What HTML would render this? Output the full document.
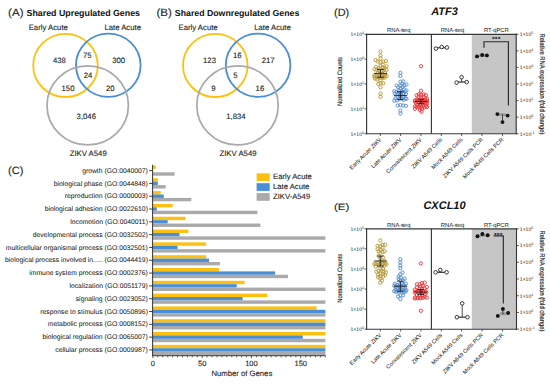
<!DOCTYPE html>
<html><head><meta charset="utf-8"><style>
html,body{margin:0;padding:0;background:#fff;width:550px;height:384px;overflow:hidden}
svg{display:block}
text{font-family:"Liberation Sans",sans-serif;text-rendering:geometricPrecision}
</style></head><body>
<svg width="550" height="384" viewBox="0 0 550 384">
<rect width="550" height="384" fill="#fff"/>
<text x="8.10" y="16.20" font-size="10.5" text-anchor="start" font-weight="normal" font-style="normal" fill="#222" stroke="#222" stroke-width="0.1" textLength="15.4" lengthAdjust="spacingAndGlyphs">(A)</text>
<text x="26.50" y="16.40" font-size="8.85" text-anchor="start" font-weight="bold" font-style="normal" fill="#111" >Shared Upregulated Genes</text>
<text x="48.30" y="29.80" font-size="7.75" text-anchor="middle" font-weight="normal" font-style="normal" fill="#222" stroke="#222" stroke-width="0.1" >Early Acute</text>
<text x="122.70" y="29.60" font-size="7.75" text-anchor="middle" font-weight="normal" font-style="normal" fill="#222" stroke="#222" stroke-width="0.1" >Late Acute</text>
<ellipse cx="65.50" cy="65.40" rx="32.30" ry="31.60" stroke="#FDC010" fill="none" stroke-width="1.8"/>
<ellipse cx="108.30" cy="65.20" rx="32.30" ry="31.60" stroke="#4A8ED6" fill="none" stroke-width="1.8"/>
<ellipse cx="87.70" cy="105.40" rx="40.70" ry="39.50" stroke="#AAAAAC" fill="none" stroke-width="1.75"/>
<text x="59.40" y="63.20" font-size="7.75" text-anchor="middle" font-weight="normal" font-style="normal" fill="#222" stroke="#222" stroke-width="0.1" >438</text>
<text x="87.20" y="58.00" font-size="7.75" text-anchor="middle" font-weight="normal" font-style="normal" fill="#222" stroke="#222" stroke-width="0.1" >75</text>
<text x="118.70" y="63.00" font-size="7.75" text-anchor="middle" font-weight="normal" font-style="normal" fill="#222" stroke="#222" stroke-width="0.1" >300</text>
<text x="88.00" y="78.30" font-size="7.75" text-anchor="middle" font-weight="normal" font-style="normal" fill="#222" stroke="#222" stroke-width="0.1" >24</text>
<text x="68.00" y="90.60" font-size="7.75" text-anchor="middle" font-weight="normal" font-style="normal" fill="#222" stroke="#222" stroke-width="0.1" >150</text>
<text x="110.20" y="90.60" font-size="7.75" text-anchor="middle" font-weight="normal" font-style="normal" fill="#222" stroke="#222" stroke-width="0.1" >20</text>
<text x="86.30" y="118.60" font-size="7.75" text-anchor="middle" font-weight="normal" font-style="normal" fill="#222" stroke="#222" stroke-width="0.1" >3,046</text>
<text x="88.20" y="156.10" font-size="7.75" text-anchor="middle" font-weight="normal" font-style="normal" fill="#222" stroke="#222" stroke-width="0.1" >ZIKV A549</text>
<text x="156.40" y="16.20" font-size="10.5" text-anchor="start" font-weight="normal" font-style="normal" fill="#222" stroke="#222" stroke-width="0.1" textLength="15.4" lengthAdjust="spacingAndGlyphs">(B)</text>
<text x="174.85" y="16.40" font-size="8.75" text-anchor="start" font-weight="bold" font-style="normal" fill="#111" >Shared Downregulated Genes</text>
<text x="198.10" y="29.80" font-size="7.75" text-anchor="middle" font-weight="normal" font-style="normal" fill="#222" stroke="#222" stroke-width="0.1" >Early Acute</text>
<text x="272.50" y="29.60" font-size="7.75" text-anchor="middle" font-weight="normal" font-style="normal" fill="#222" stroke="#222" stroke-width="0.1" >Late Acute</text>
<ellipse cx="215.30" cy="65.40" rx="32.30" ry="31.60" stroke="#FDC010" fill="none" stroke-width="1.8"/>
<ellipse cx="258.10" cy="65.20" rx="32.30" ry="31.60" stroke="#4A8ED6" fill="none" stroke-width="1.8"/>
<ellipse cx="237.50" cy="105.40" rx="40.70" ry="39.50" stroke="#AAAAAC" fill="none" stroke-width="1.75"/>
<text x="209.50" y="62.90" font-size="7.75" text-anchor="middle" font-weight="normal" font-style="normal" fill="#222" stroke="#222" stroke-width="0.1" >123</text>
<text x="237.20" y="57.90" font-size="7.75" text-anchor="middle" font-weight="normal" font-style="normal" fill="#222" stroke="#222" stroke-width="0.1" >16</text>
<text x="268.20" y="62.90" font-size="7.75" text-anchor="middle" font-weight="normal" font-style="normal" fill="#222" stroke="#222" stroke-width="0.1" >217</text>
<text x="235.50" y="78.20" font-size="7.75" text-anchor="middle" font-weight="normal" font-style="normal" fill="#222" stroke="#222" stroke-width="0.1" >5</text>
<text x="213.40" y="90.60" font-size="7.75" text-anchor="middle" font-weight="normal" font-style="normal" fill="#222" stroke="#222" stroke-width="0.1" >9</text>
<text x="259.90" y="90.60" font-size="7.75" text-anchor="middle" font-weight="normal" font-style="normal" fill="#222" stroke="#222" stroke-width="0.1" >16</text>
<text x="235.90" y="118.60" font-size="7.75" text-anchor="middle" font-weight="normal" font-style="normal" fill="#222" stroke="#222" stroke-width="0.1" >1,834</text>
<text x="238.00" y="156.10" font-size="7.75" text-anchor="middle" font-weight="normal" font-style="normal" fill="#222" stroke="#222" stroke-width="0.1" >ZIKV A549</text>
<text x="8.10" y="173.60" font-size="10.5" text-anchor="start" font-weight="normal" font-style="normal" fill="#222" stroke="#222" stroke-width="0.1" textLength="15.4" lengthAdjust="spacingAndGlyphs">(C)</text>
<rect x="152.90" y="165.50" width="2.96" height="3.40" fill="#FDC010"/>
<rect x="152.90" y="172.30" width="21.69" height="3.40" fill="#AAAAAC"/>
<line x1="149.20" y1="170.60" x2="152.90" y2="170.60" stroke="#2a2a2a" stroke-width="0.9"/>
<text x="147.90" y="172.70" font-size="6.8" text-anchor="end" font-weight="normal" font-style="normal" fill="#222" stroke="#222" stroke-width="0.04" >growth (GO:0040007)</text>
<rect x="152.90" y="178.31" width="4.93" height="3.40" fill="#FDC010"/>
<rect x="152.90" y="181.71" width="4.93" height="3.40" fill="#4A8ED6"/>
<rect x="152.90" y="185.11" width="12.81" height="3.40" fill="#AAAAAC"/>
<line x1="149.20" y1="183.41" x2="152.90" y2="183.41" stroke="#2a2a2a" stroke-width="0.9"/>
<text x="147.90" y="185.51" font-size="6.8" text-anchor="end" font-weight="normal" font-style="normal" fill="#222" stroke="#222" stroke-width="0.04" >biological phase (GO:0044848)</text>
<rect x="152.90" y="191.12" width="7.89" height="3.40" fill="#FDC010"/>
<rect x="152.90" y="194.52" width="10.84" height="3.40" fill="#4A8ED6"/>
<rect x="152.90" y="197.92" width="38.44" height="3.40" fill="#AAAAAC"/>
<line x1="149.20" y1="196.22" x2="152.90" y2="196.22" stroke="#2a2a2a" stroke-width="0.9"/>
<text x="147.90" y="198.32" font-size="6.8" text-anchor="end" font-weight="normal" font-style="normal" fill="#222" stroke="#222" stroke-width="0.04" >reproduction (GO:0000003)</text>
<rect x="152.90" y="203.93" width="19.71" height="3.40" fill="#FDC010"/>
<rect x="152.90" y="207.33" width="3.94" height="3.40" fill="#4A8ED6"/>
<rect x="152.90" y="210.73" width="104.48" height="3.40" fill="#AAAAAC"/>
<line x1="149.20" y1="209.03" x2="152.90" y2="209.03" stroke="#2a2a2a" stroke-width="0.9"/>
<text x="147.90" y="211.13" font-size="6.8" text-anchor="end" font-weight="normal" font-style="normal" fill="#222" stroke="#222" stroke-width="0.04" >biological adhesion (GO:0022610)</text>
<rect x="152.90" y="216.74" width="32.53" height="3.40" fill="#FDC010"/>
<rect x="152.90" y="220.14" width="14.79" height="3.40" fill="#4A8ED6"/>
<rect x="152.90" y="223.54" width="107.44" height="3.40" fill="#AAAAAC"/>
<line x1="149.20" y1="221.84" x2="152.90" y2="221.84" stroke="#2a2a2a" stroke-width="0.9"/>
<text x="147.90" y="223.94" font-size="6.8" text-anchor="end" font-weight="normal" font-style="normal" fill="#222" stroke="#222" stroke-width="0.04" >locomotion (GO:0040011)</text>
<rect x="152.90" y="229.55" width="35.49" height="3.40" fill="#FDC010"/>
<rect x="152.90" y="232.95" width="26.61" height="3.40" fill="#4A8ED6"/>
<rect x="152.90" y="236.35" width="172.50" height="3.40" fill="#AAAAAC"/>
<line x1="149.20" y1="234.65" x2="152.90" y2="234.65" stroke="#2a2a2a" stroke-width="0.9"/>
<text x="147.90" y="236.75" font-size="6.8" text-anchor="end" font-weight="normal" font-style="normal" fill="#222" stroke="#222" stroke-width="0.04" >developmental process (GO:0032502)</text>
<rect x="152.90" y="242.36" width="53.23" height="3.40" fill="#FDC010"/>
<rect x="152.90" y="245.76" width="24.64" height="3.40" fill="#4A8ED6"/>
<rect x="152.90" y="249.16" width="172.50" height="3.40" fill="#AAAAAC"/>
<line x1="149.20" y1="247.46" x2="152.90" y2="247.46" stroke="#2a2a2a" stroke-width="0.9"/>
<text x="147.90" y="249.56" font-size="6.8" text-anchor="end" font-weight="normal" font-style="normal" fill="#222" stroke="#222" stroke-width="0.04" >multicellular organismal process (GO:0032501)</text>
<rect x="152.90" y="255.17" width="53.23" height="3.40" fill="#FDC010"/>
<rect x="152.90" y="258.57" width="56.18" height="3.40" fill="#4A8ED6"/>
<rect x="152.90" y="261.97" width="67.03" height="3.40" fill="#AAAAAC"/>
<line x1="149.20" y1="260.27" x2="152.90" y2="260.27" stroke="#2a2a2a" stroke-width="0.9"/>
<text x="147.90" y="262.37" font-size="6.8" text-anchor="end" font-weight="normal" font-style="normal" fill="#222" stroke="#222" stroke-width="0.04" >biological process involved in..... (GO:0044419)</text>
<rect x="152.90" y="267.98" width="66.04" height="3.40" fill="#FDC010"/>
<rect x="152.90" y="271.38" width="122.23" height="3.40" fill="#4A8ED6"/>
<rect x="152.90" y="274.78" width="135.04" height="3.40" fill="#AAAAAC"/>
<line x1="149.20" y1="273.08" x2="152.90" y2="273.08" stroke="#2a2a2a" stroke-width="0.9"/>
<text x="147.90" y="275.18" font-size="6.8" text-anchor="end" font-weight="normal" font-style="normal" fill="#222" stroke="#222" stroke-width="0.04" >immune system process (GO:0002376)</text>
<rect x="152.90" y="280.79" width="91.67" height="3.40" fill="#FDC010"/>
<rect x="152.90" y="284.19" width="83.78" height="3.40" fill="#4A8ED6"/>
<rect x="152.90" y="287.59" width="172.50" height="3.40" fill="#AAAAAC"/>
<line x1="149.20" y1="285.89" x2="152.90" y2="285.89" stroke="#2a2a2a" stroke-width="0.9"/>
<text x="147.90" y="287.99" font-size="6.8" text-anchor="end" font-weight="normal" font-style="normal" fill="#222" stroke="#222" stroke-width="0.04" >localization (GO:0051179)</text>
<rect x="152.90" y="293.60" width="114.34" height="3.40" fill="#FDC010"/>
<rect x="152.90" y="297.00" width="89.70" height="3.40" fill="#4A8ED6"/>
<rect x="152.90" y="300.40" width="172.50" height="3.40" fill="#AAAAAC"/>
<line x1="149.20" y1="298.70" x2="152.90" y2="298.70" stroke="#2a2a2a" stroke-width="0.9"/>
<text x="147.90" y="300.80" font-size="6.8" text-anchor="end" font-weight="normal" font-style="normal" fill="#222" stroke="#222" stroke-width="0.04" >signaling (GO:0023052)</text>
<rect x="152.90" y="306.41" width="163.63" height="3.40" fill="#FDC010"/>
<rect x="152.90" y="309.81" width="172.50" height="3.40" fill="#4A8ED6"/>
<rect x="152.90" y="313.21" width="172.50" height="3.40" fill="#AAAAAC"/>
<line x1="149.20" y1="311.51" x2="152.90" y2="311.51" stroke="#2a2a2a" stroke-width="0.9"/>
<text x="147.90" y="313.61" font-size="6.8" text-anchor="end" font-weight="normal" font-style="normal" fill="#222" stroke="#222" stroke-width="0.04" >response to stimulus (GO:0050896)</text>
<rect x="152.90" y="319.22" width="172.50" height="3.40" fill="#FDC010"/>
<rect x="152.90" y="322.62" width="172.50" height="3.40" fill="#4A8ED6"/>
<rect x="152.90" y="326.02" width="172.50" height="3.40" fill="#AAAAAC"/>
<line x1="149.20" y1="324.32" x2="152.90" y2="324.32" stroke="#2a2a2a" stroke-width="0.9"/>
<text x="147.90" y="326.42" font-size="6.8" text-anchor="end" font-weight="normal" font-style="normal" fill="#222" stroke="#222" stroke-width="0.04" >metabolic process (GO:0008152)</text>
<rect x="152.90" y="332.03" width="172.50" height="3.40" fill="#FDC010"/>
<rect x="152.90" y="335.43" width="149.83" height="3.40" fill="#4A8ED6"/>
<rect x="152.90" y="338.83" width="172.50" height="3.40" fill="#AAAAAC"/>
<line x1="149.20" y1="337.13" x2="152.90" y2="337.13" stroke="#2a2a2a" stroke-width="0.9"/>
<text x="147.90" y="339.23" font-size="6.8" text-anchor="end" font-weight="normal" font-style="normal" fill="#222" stroke="#222" stroke-width="0.04" >biological regulation (GO:0065007)</text>
<rect x="152.90" y="344.84" width="172.50" height="3.40" fill="#FDC010"/>
<rect x="152.90" y="348.24" width="172.50" height="3.40" fill="#4A8ED6"/>
<rect x="152.90" y="351.64" width="172.50" height="3.40" fill="#AAAAAC"/>
<line x1="149.20" y1="349.94" x2="152.90" y2="349.94" stroke="#2a2a2a" stroke-width="0.9"/>
<text x="147.90" y="352.04" font-size="6.8" text-anchor="end" font-weight="normal" font-style="normal" fill="#222" stroke="#222" stroke-width="0.04" >cellular process (GO:0009987)</text>
<line x1="152.60" y1="164.80" x2="152.60" y2="356.10" stroke="#333" stroke-width="1"/>
<line x1="152.40" y1="355.70" x2="325.40" y2="355.70" stroke="#333" stroke-width="1"/>
<line x1="152.90" y1="355.70" x2="152.90" y2="358.10" stroke="#333" stroke-width="0.8"/>
<line x1="157.83" y1="355.70" x2="157.83" y2="357.30" stroke="#333" stroke-width="0.8"/>
<line x1="162.76" y1="355.70" x2="162.76" y2="357.30" stroke="#333" stroke-width="0.8"/>
<line x1="167.69" y1="355.70" x2="167.69" y2="357.30" stroke="#333" stroke-width="0.8"/>
<line x1="172.61" y1="355.70" x2="172.61" y2="357.30" stroke="#333" stroke-width="0.8"/>
<line x1="177.54" y1="355.70" x2="177.54" y2="357.30" stroke="#333" stroke-width="0.8"/>
<line x1="182.47" y1="355.70" x2="182.47" y2="357.30" stroke="#333" stroke-width="0.8"/>
<line x1="187.40" y1="355.70" x2="187.40" y2="357.30" stroke="#333" stroke-width="0.8"/>
<line x1="192.33" y1="355.70" x2="192.33" y2="357.30" stroke="#333" stroke-width="0.8"/>
<line x1="197.26" y1="355.70" x2="197.26" y2="357.30" stroke="#333" stroke-width="0.8"/>
<line x1="202.19" y1="355.70" x2="202.19" y2="358.10" stroke="#333" stroke-width="0.8"/>
<line x1="207.11" y1="355.70" x2="207.11" y2="357.30" stroke="#333" stroke-width="0.8"/>
<line x1="212.04" y1="355.70" x2="212.04" y2="357.30" stroke="#333" stroke-width="0.8"/>
<line x1="216.97" y1="355.70" x2="216.97" y2="357.30" stroke="#333" stroke-width="0.8"/>
<line x1="221.90" y1="355.70" x2="221.90" y2="357.30" stroke="#333" stroke-width="0.8"/>
<line x1="226.83" y1="355.70" x2="226.83" y2="357.30" stroke="#333" stroke-width="0.8"/>
<line x1="231.76" y1="355.70" x2="231.76" y2="357.30" stroke="#333" stroke-width="0.8"/>
<line x1="236.68" y1="355.70" x2="236.68" y2="357.30" stroke="#333" stroke-width="0.8"/>
<line x1="241.61" y1="355.70" x2="241.61" y2="357.30" stroke="#333" stroke-width="0.8"/>
<line x1="246.54" y1="355.70" x2="246.54" y2="357.30" stroke="#333" stroke-width="0.8"/>
<line x1="251.47" y1="355.70" x2="251.47" y2="358.10" stroke="#333" stroke-width="0.8"/>
<line x1="256.40" y1="355.70" x2="256.40" y2="357.30" stroke="#333" stroke-width="0.8"/>
<line x1="261.33" y1="355.70" x2="261.33" y2="357.30" stroke="#333" stroke-width="0.8"/>
<line x1="266.26" y1="355.70" x2="266.26" y2="357.30" stroke="#333" stroke-width="0.8"/>
<line x1="271.18" y1="355.70" x2="271.18" y2="357.30" stroke="#333" stroke-width="0.8"/>
<line x1="276.11" y1="355.70" x2="276.11" y2="357.30" stroke="#333" stroke-width="0.8"/>
<line x1="281.04" y1="355.70" x2="281.04" y2="357.30" stroke="#333" stroke-width="0.8"/>
<line x1="285.97" y1="355.70" x2="285.97" y2="357.30" stroke="#333" stroke-width="0.8"/>
<line x1="290.90" y1="355.70" x2="290.90" y2="357.30" stroke="#333" stroke-width="0.8"/>
<line x1="295.83" y1="355.70" x2="295.83" y2="357.30" stroke="#333" stroke-width="0.8"/>
<line x1="300.75" y1="355.70" x2="300.75" y2="358.10" stroke="#333" stroke-width="0.8"/>
<line x1="305.68" y1="355.70" x2="305.68" y2="357.30" stroke="#333" stroke-width="0.8"/>
<line x1="310.61" y1="355.70" x2="310.61" y2="357.30" stroke="#333" stroke-width="0.8"/>
<line x1="315.54" y1="355.70" x2="315.54" y2="357.30" stroke="#333" stroke-width="0.8"/>
<line x1="320.47" y1="355.70" x2="320.47" y2="357.30" stroke="#333" stroke-width="0.8"/>
<line x1="325.40" y1="355.70" x2="325.40" y2="357.30" stroke="#333" stroke-width="0.8"/>
<text x="152.90" y="365.50" font-size="7.5" text-anchor="middle" font-weight="normal" font-style="normal" fill="#222" stroke="#222" stroke-width="0.1" >0</text>
<text x="202.19" y="365.50" font-size="7.5" text-anchor="middle" font-weight="normal" font-style="normal" fill="#222" stroke="#222" stroke-width="0.1" >50</text>
<text x="251.47" y="365.50" font-size="7.5" text-anchor="middle" font-weight="normal" font-style="normal" fill="#222" stroke="#222" stroke-width="0.1" >100</text>
<text x="300.75" y="365.50" font-size="7.5" text-anchor="middle" font-weight="normal" font-style="normal" fill="#222" stroke="#222" stroke-width="0.1" >150</text>
<text x="241.90" y="376.30" font-size="7.7" text-anchor="middle" font-weight="normal" font-style="normal" fill="#222" stroke="#222" stroke-width="0.1" >Number of Genes</text>
<rect x="256.60" y="173.30" width="13.10" height="7.70" fill="#FDC010"/>
<text x="273.00" y="179.30" font-size="7.7" text-anchor="start" font-weight="normal" font-style="normal" fill="#222" stroke="#222" stroke-width="0.1" >Early Acute</text>
<rect x="256.60" y="183.20" width="13.10" height="7.70" fill="#4A8ED6"/>
<text x="273.00" y="189.20" font-size="7.7" text-anchor="start" font-weight="normal" font-style="normal" fill="#222" stroke="#222" stroke-width="0.1" >Late Acute</text>
<rect x="256.60" y="193.10" width="13.10" height="7.70" fill="#AAAAAC"/>
<text x="273.00" y="199.10" font-size="7.7" text-anchor="start" font-weight="normal" font-style="normal" fill="#222" stroke="#222" stroke-width="0.1" >ZIKV-A549</text>
<text x="334.00" y="15.70" font-size="10.5" text-anchor="start" font-weight="normal" font-style="normal" fill="#222" stroke="#222" stroke-width="0.1" textLength="15.2" lengthAdjust="spacingAndGlyphs">(D)</text>
<text x="444.50" y="14.90" font-size="11" text-anchor="middle" font-weight="bold" font-style="italic" fill="#111" >ATF3</text>
<rect x="471.80" y="34.30" width="44.60" height="99.40" fill="#C6C6C6"/>
<line x1="366.10" y1="34.30" x2="516.70" y2="34.30" stroke="#383838" stroke-width="1.15"/>
<line x1="366.10" y1="133.70" x2="516.70" y2="133.70" stroke="#383838" stroke-width="1.15"/>
<line x1="366.60" y1="33.80" x2="366.60" y2="134.20" stroke="#383838" stroke-width="1.15"/>
<line x1="516.20" y1="33.80" x2="516.20" y2="134.20" stroke="#383838" stroke-width="1.15"/>
<line x1="431.40" y1="34.30" x2="431.40" y2="133.70" stroke="#383838" stroke-width="1.15"/>
<text x="398.80" y="32.30" font-size="5.8" text-anchor="middle" font-weight="normal" font-style="normal" fill="#222" stroke="#222" stroke-width="0.04" >RNA-seq</text>
<text x="452.60" y="32.30" font-size="5.8" text-anchor="middle" font-weight="normal" font-style="normal" fill="#222" stroke="#222" stroke-width="0.04" >RNA-seq</text>
<text x="496.30" y="32.30" font-size="5.8" text-anchor="middle" font-weight="normal" font-style="normal" fill="#222" stroke="#222" stroke-width="0.04" >RT-qPCR</text>
<line x1="364.40" y1="133.70" x2="366.60" y2="133.70" stroke="#333" stroke-width="0.8"/>
<text x="364.0" y="135.60" font-size="5.1" text-anchor="end" fill="#222">1×10<tspan font-size="3.6" dy="-2.0">0</tspan></text>
<line x1="364.40" y1="108.85" x2="366.60" y2="108.85" stroke="#333" stroke-width="0.8"/>
<text x="364.0" y="110.75" font-size="5.1" text-anchor="end" fill="#222">1×10<tspan font-size="3.6" dy="-2.0">1</tspan></text>
<line x1="364.40" y1="84.00" x2="366.60" y2="84.00" stroke="#333" stroke-width="0.8"/>
<text x="364.0" y="85.90" font-size="5.1" text-anchor="end" fill="#222">1×10<tspan font-size="3.6" dy="-2.0">2</tspan></text>
<line x1="364.40" y1="59.15" x2="366.60" y2="59.15" stroke="#333" stroke-width="0.8"/>
<text x="364.0" y="61.05" font-size="5.1" text-anchor="end" fill="#222">1×10<tspan font-size="3.6" dy="-2.0">3</tspan></text>
<line x1="364.40" y1="34.30" x2="366.60" y2="34.30" stroke="#333" stroke-width="0.8"/>
<text x="364.0" y="36.20" font-size="5.1" text-anchor="end" fill="#222">1×10<tspan font-size="3.6" dy="-2.0">4</tspan></text>
<line x1="516.20" y1="133.70" x2="518.60" y2="133.70" stroke="#333" stroke-width="0.8"/>
<text x="519.8" y="135.60" font-size="5.1" fill="#222">1×10<tspan font-size="3.6" dy="-2.0">-1</tspan></text>
<line x1="516.20" y1="117.13" x2="518.60" y2="117.13" stroke="#333" stroke-width="0.8"/>
<text x="519.8" y="119.03" font-size="5.1" fill="#222">1×10<tspan font-size="3.6" dy="-2.0">0</tspan></text>
<line x1="516.20" y1="100.57" x2="518.60" y2="100.57" stroke="#333" stroke-width="0.8"/>
<text x="519.8" y="102.47" font-size="5.1" fill="#222">1×10<tspan font-size="3.6" dy="-2.0">1</tspan></text>
<line x1="516.20" y1="84.00" x2="518.60" y2="84.00" stroke="#333" stroke-width="0.8"/>
<text x="519.8" y="85.90" font-size="5.1" fill="#222">1×10<tspan font-size="3.6" dy="-2.0">2</tspan></text>
<line x1="516.20" y1="67.43" x2="518.60" y2="67.43" stroke="#333" stroke-width="0.8"/>
<text x="519.8" y="69.33" font-size="5.1" fill="#222">1×10<tspan font-size="3.6" dy="-2.0">3</tspan></text>
<line x1="516.20" y1="50.87" x2="518.60" y2="50.87" stroke="#333" stroke-width="0.8"/>
<text x="519.8" y="52.77" font-size="5.1" fill="#222">1×10<tspan font-size="3.6" dy="-2.0">4</tspan></text>
<line x1="516.20" y1="34.30" x2="518.60" y2="34.30" stroke="#333" stroke-width="0.8"/>
<text x="519.8" y="36.20" font-size="5.1" fill="#222">1×10<tspan font-size="3.6" dy="-2.0">5</tspan></text>
<text x="0.00" y="0.00" font-size="5.75" text-anchor="middle" font-weight="normal" font-style="normal" fill="#222" stroke="#222" stroke-width="0.12" transform="translate(341.8,81.5) rotate(-90) scale(1,1.15)">Normalized Counts</text>
<text x="0.00" y="0.00" font-size="5.9" text-anchor="middle" font-weight="normal" font-style="normal" fill="#222" stroke="#222" stroke-width="0.15" transform="translate(540.3,84.0) rotate(90) scale(1,1.15)">Relative RNA expression (fold change)</text>
<line x1="380.40" y1="133.70" x2="380.40" y2="136.00" stroke="#333" stroke-width="0.8"/>
<text x="0.00" y="0.00" font-size="5.6" text-anchor="end" font-weight="normal" font-style="normal" fill="#222" stroke="#222" stroke-width="0.04" transform="translate(381.7,140.0) rotate(-45)">Early Acute ZIKV</text>
<line x1="400.60" y1="133.70" x2="400.60" y2="136.00" stroke="#333" stroke-width="0.8"/>
<text x="0.00" y="0.00" font-size="5.6" text-anchor="end" font-weight="normal" font-style="normal" fill="#222" stroke="#222" stroke-width="0.04" transform="translate(401.9,140.0) rotate(-45)">Late Acute ZIKV</text>
<line x1="420.90" y1="133.70" x2="420.90" y2="136.00" stroke="#333" stroke-width="0.8"/>
<text x="0.00" y="0.00" font-size="5.6" text-anchor="end" font-weight="normal" font-style="normal" fill="#222" stroke="#222" stroke-width="0.04" transform="translate(422.2,140.0) rotate(-45)">Convalescent ZIKV</text>
<line x1="441.30" y1="133.70" x2="441.30" y2="136.00" stroke="#333" stroke-width="0.8"/>
<text x="0.00" y="0.00" font-size="5.6" text-anchor="end" font-weight="normal" font-style="normal" fill="#222" stroke="#222" stroke-width="0.04" transform="translate(442.6,140.0) rotate(-45)">ZIKV A549 Cells</text>
<line x1="461.60" y1="133.70" x2="461.60" y2="136.00" stroke="#333" stroke-width="0.8"/>
<text x="0.00" y="0.00" font-size="5.6" text-anchor="end" font-weight="normal" font-style="normal" fill="#222" stroke="#222" stroke-width="0.04" transform="translate(462.9,140.0) rotate(-45)">Mock A549 Cells</text>
<line x1="482.00" y1="133.70" x2="482.00" y2="136.00" stroke="#333" stroke-width="0.8"/>
<text x="0.00" y="0.00" font-size="5.6" text-anchor="end" font-weight="normal" font-style="normal" fill="#222" stroke="#222" stroke-width="0.04" transform="translate(483.3,140.0) rotate(-45)">ZIKV A549 Cells PCR</text>
<line x1="502.50" y1="133.70" x2="502.50" y2="136.00" stroke="#333" stroke-width="0.8"/>
<text x="0.00" y="0.00" font-size="5.6" text-anchor="end" font-weight="normal" font-style="normal" fill="#222" stroke="#222" stroke-width="0.04" transform="translate(503.8,140.0) rotate(-45)">Mock A549 Cells PCR</text>
<circle cx="380.50" cy="73.13" r="1.65" stroke="#B89A3A" fill="none" stroke-width="0.95"/>
<circle cx="382.70" cy="73.89" r="1.65" stroke="#B89A3A" fill="none" stroke-width="0.95"/>
<circle cx="377.75" cy="73.01" r="1.65" stroke="#B89A3A" fill="none" stroke-width="0.95"/>
<circle cx="384.90" cy="72.65" r="1.65" stroke="#B89A3A" fill="none" stroke-width="0.95"/>
<circle cx="384.90" cy="74.98" r="1.65" stroke="#B89A3A" fill="none" stroke-width="0.95"/>
<circle cx="379.40" cy="75.22" r="1.65" stroke="#B89A3A" fill="none" stroke-width="0.95"/>
<circle cx="376.65" cy="75.46" r="1.65" stroke="#B89A3A" fill="none" stroke-width="0.95"/>
<circle cx="374.45" cy="75.49" r="1.65" stroke="#B89A3A" fill="none" stroke-width="0.95"/>
<circle cx="381.60" cy="75.94" r="1.65" stroke="#B89A3A" fill="none" stroke-width="0.95"/>
<circle cx="386.55" cy="75.97" r="1.65" stroke="#B89A3A" fill="none" stroke-width="0.95"/>
<circle cx="381.60" cy="70.97" r="1.65" stroke="#B89A3A" fill="none" stroke-width="0.95"/>
<circle cx="383.80" cy="76.08" r="1.65" stroke="#B89A3A" fill="none" stroke-width="0.95"/>
<circle cx="378.85" cy="70.75" r="1.65" stroke="#B89A3A" fill="none" stroke-width="0.95"/>
<circle cx="378.85" cy="76.65" r="1.65" stroke="#B89A3A" fill="none" stroke-width="0.95"/>
<circle cx="374.45" cy="76.66" r="1.65" stroke="#B89A3A" fill="none" stroke-width="0.95"/>
<circle cx="376.65" cy="76.91" r="1.65" stroke="#B89A3A" fill="none" stroke-width="0.95"/>
<circle cx="383.80" cy="69.92" r="1.65" stroke="#B89A3A" fill="none" stroke-width="0.95"/>
<circle cx="376.65" cy="69.75" r="1.65" stroke="#B89A3A" fill="none" stroke-width="0.95"/>
<circle cx="386.55" cy="69.71" r="1.65" stroke="#B89A3A" fill="none" stroke-width="0.95"/>
<circle cx="384.90" cy="77.49" r="1.65" stroke="#B89A3A" fill="none" stroke-width="0.95"/>
<circle cx="381.05" cy="77.55" r="1.65" stroke="#B89A3A" fill="none" stroke-width="0.95"/>
<circle cx="374.45" cy="69.34" r="1.65" stroke="#B89A3A" fill="none" stroke-width="0.95"/>
<circle cx="378.85" cy="77.67" r="1.65" stroke="#B89A3A" fill="none" stroke-width="0.95"/>
<circle cx="382.70" cy="77.95" r="1.65" stroke="#B89A3A" fill="none" stroke-width="0.95"/>
<circle cx="380.50" cy="68.54" r="1.65" stroke="#B89A3A" fill="none" stroke-width="0.95"/>
<circle cx="375.00" cy="78.56" r="1.65" stroke="#B89A3A" fill="none" stroke-width="0.95"/>
<circle cx="378.30" cy="68.36" r="1.65" stroke="#B89A3A" fill="none" stroke-width="0.95"/>
<circle cx="384.90" cy="68.21" r="1.65" stroke="#B89A3A" fill="none" stroke-width="0.95"/>
<circle cx="382.70" cy="67.58" r="1.65" stroke="#B89A3A" fill="none" stroke-width="0.95"/>
<circle cx="377.20" cy="79.53" r="1.65" stroke="#B89A3A" fill="none" stroke-width="0.95"/>
<circle cx="376.10" cy="67.04" r="1.65" stroke="#B89A3A" fill="none" stroke-width="0.95"/>
<circle cx="380.50" cy="80.34" r="1.65" stroke="#B89A3A" fill="none" stroke-width="0.95"/>
<circle cx="386.55" cy="66.38" r="1.65" stroke="#B89A3A" fill="none" stroke-width="0.95"/>
<circle cx="380.50" cy="65.84" r="1.65" stroke="#B89A3A" fill="none" stroke-width="0.95"/>
<circle cx="382.70" cy="64.53" r="1.65" stroke="#B89A3A" fill="none" stroke-width="0.95"/>
<circle cx="380.50" cy="83.08" r="1.65" stroke="#B89A3A" fill="none" stroke-width="0.95"/>
<circle cx="383.25" cy="83.27" r="1.65" stroke="#B89A3A" fill="none" stroke-width="0.95"/>
<circle cx="378.30" cy="83.95" r="1.65" stroke="#B89A3A" fill="none" stroke-width="0.95"/>
<circle cx="380.50" cy="62.17" r="1.65" stroke="#B89A3A" fill="none" stroke-width="0.95"/>
<circle cx="383.25" cy="61.74" r="1.65" stroke="#B89A3A" fill="none" stroke-width="0.95"/>
<circle cx="377.75" cy="61.58" r="1.65" stroke="#B89A3A" fill="none" stroke-width="0.95"/>
<circle cx="386.00" cy="61.12" r="1.65" stroke="#B89A3A" fill="none" stroke-width="0.95"/>
<circle cx="375.55" cy="60.17" r="1.65" stroke="#B89A3A" fill="none" stroke-width="0.95"/>
<circle cx="380.50" cy="87.24" r="1.65" stroke="#B89A3A" fill="none" stroke-width="0.95"/>
<circle cx="380.50" cy="51.60" r="1.65" stroke="#B89A3A" fill="none" stroke-width="0.95"/>
<circle cx="380.50" cy="55.50" r="1.65" stroke="#B89A3A" fill="none" stroke-width="0.95"/>
<circle cx="380.50" cy="58.50" r="1.65" stroke="#B89A3A" fill="none" stroke-width="0.95"/>
<circle cx="380.50" cy="93.50" r="1.65" stroke="#B89A3A" fill="none" stroke-width="0.95"/>
<circle cx="380.50" cy="96.80" r="1.65" stroke="#B89A3A" fill="none" stroke-width="0.95"/>
<line x1="374.00" y1="73.40" x2="387.00" y2="73.40" stroke="#1a1a1a" stroke-width="0.85"/>
<line x1="380.50" y1="69.50" x2="380.50" y2="77.30" stroke="#1a1a1a" stroke-width="0.85"/>
<line x1="377.20" y1="69.50" x2="383.80" y2="69.50" stroke="#1a1a1a" stroke-width="0.85"/>
<line x1="377.20" y1="77.30" x2="383.80" y2="77.30" stroke="#1a1a1a" stroke-width="0.85"/>
<circle cx="400.40" cy="94.41" r="1.65" stroke="#5A8DD0" fill="none" stroke-width="0.95"/>
<circle cx="403.15" cy="94.22" r="1.65" stroke="#5A8DD0" fill="none" stroke-width="0.95"/>
<circle cx="397.65" cy="94.10" r="1.65" stroke="#5A8DD0" fill="none" stroke-width="0.95"/>
<circle cx="405.90" cy="94.08" r="1.65" stroke="#5A8DD0" fill="none" stroke-width="0.95"/>
<circle cx="394.90" cy="93.49" r="1.65" stroke="#5A8DD0" fill="none" stroke-width="0.95"/>
<circle cx="400.95" cy="93.40" r="1.65" stroke="#5A8DD0" fill="none" stroke-width="0.95"/>
<circle cx="403.70" cy="93.32" r="1.65" stroke="#5A8DD0" fill="none" stroke-width="0.95"/>
<circle cx="400.40" cy="96.72" r="1.65" stroke="#5A8DD0" fill="none" stroke-width="0.95"/>
<circle cx="403.15" cy="97.00" r="1.65" stroke="#5A8DD0" fill="none" stroke-width="0.95"/>
<circle cx="398.75" cy="92.93" r="1.65" stroke="#5A8DD0" fill="none" stroke-width="0.95"/>
<circle cx="397.65" cy="97.17" r="1.65" stroke="#5A8DD0" fill="none" stroke-width="0.95"/>
<circle cx="396.55" cy="91.85" r="1.65" stroke="#5A8DD0" fill="none" stroke-width="0.95"/>
<circle cx="405.35" cy="98.29" r="1.65" stroke="#5A8DD0" fill="none" stroke-width="0.95"/>
<circle cx="405.35" cy="91.60" r="1.65" stroke="#5A8DD0" fill="none" stroke-width="0.95"/>
<circle cx="395.45" cy="98.46" r="1.65" stroke="#5A8DD0" fill="none" stroke-width="0.95"/>
<circle cx="401.50" cy="98.48" r="1.65" stroke="#5A8DD0" fill="none" stroke-width="0.95"/>
<circle cx="402.05" cy="91.29" r="1.65" stroke="#5A8DD0" fill="none" stroke-width="0.95"/>
<circle cx="399.30" cy="98.81" r="1.65" stroke="#5A8DD0" fill="none" stroke-width="0.95"/>
<circle cx="406.45" cy="98.85" r="1.65" stroke="#5A8DD0" fill="none" stroke-width="0.95"/>
<circle cx="394.35" cy="91.12" r="1.65" stroke="#5A8DD0" fill="none" stroke-width="0.95"/>
<circle cx="399.30" cy="90.65" r="1.65" stroke="#5A8DD0" fill="none" stroke-width="0.95"/>
<circle cx="406.45" cy="90.54" r="1.65" stroke="#5A8DD0" fill="none" stroke-width="0.95"/>
<circle cx="403.70" cy="99.84" r="1.65" stroke="#5A8DD0" fill="none" stroke-width="0.95"/>
<circle cx="397.10" cy="100.41" r="1.65" stroke="#5A8DD0" fill="none" stroke-width="0.95"/>
<circle cx="394.35" cy="100.63" r="1.65" stroke="#5A8DD0" fill="none" stroke-width="0.95"/>
<circle cx="403.70" cy="89.31" r="1.65" stroke="#5A8DD0" fill="none" stroke-width="0.95"/>
<circle cx="400.40" cy="88.54" r="1.65" stroke="#5A8DD0" fill="none" stroke-width="0.95"/>
<circle cx="398.20" cy="87.34" r="1.65" stroke="#5A8DD0" fill="none" stroke-width="0.95"/>
<circle cx="402.60" cy="87.06" r="1.65" stroke="#5A8DD0" fill="none" stroke-width="0.95"/>
<circle cx="400.40" cy="85.62" r="1.65" stroke="#5A8DD0" fill="none" stroke-width="0.95"/>
<circle cx="396.55" cy="85.50" r="1.65" stroke="#5A8DD0" fill="none" stroke-width="0.95"/>
<circle cx="404.25" cy="85.33" r="1.65" stroke="#5A8DD0" fill="none" stroke-width="0.95"/>
<circle cx="400.40" cy="105.10" r="1.65" stroke="#5A8DD0" fill="none" stroke-width="0.95"/>
<circle cx="406.45" cy="84.58" r="1.65" stroke="#5A8DD0" fill="none" stroke-width="0.95"/>
<circle cx="403.15" cy="105.57" r="1.65" stroke="#5A8DD0" fill="none" stroke-width="0.95"/>
<circle cx="397.65" cy="105.59" r="1.65" stroke="#5A8DD0" fill="none" stroke-width="0.95"/>
<circle cx="405.90" cy="105.86" r="1.65" stroke="#5A8DD0" fill="none" stroke-width="0.95"/>
<circle cx="402.05" cy="83.82" r="1.65" stroke="#5A8DD0" fill="none" stroke-width="0.95"/>
<circle cx="400.40" cy="81.73" r="1.65" stroke="#5A8DD0" fill="none" stroke-width="0.95"/>
<circle cx="403.15" cy="81.36" r="1.65" stroke="#5A8DD0" fill="none" stroke-width="0.95"/>
<circle cx="400.40" cy="72.90" r="1.65" stroke="#5A8DD0" fill="none" stroke-width="0.95"/>
<circle cx="400.40" cy="76.00" r="1.65" stroke="#5A8DD0" fill="none" stroke-width="0.95"/>
<circle cx="400.40" cy="110.50" r="1.65" stroke="#5A8DD0" fill="none" stroke-width="0.95"/>
<circle cx="400.40" cy="113.50" r="1.65" stroke="#5A8DD0" fill="none" stroke-width="0.95"/>
<line x1="393.90" y1="95.60" x2="406.90" y2="95.60" stroke="#1a1a1a" stroke-width="0.85"/>
<line x1="400.40" y1="91.60" x2="400.40" y2="99.60" stroke="#1a1a1a" stroke-width="0.85"/>
<line x1="397.10" y1="91.60" x2="403.70" y2="91.60" stroke="#1a1a1a" stroke-width="0.85"/>
<line x1="397.10" y1="99.60" x2="403.70" y2="99.60" stroke="#1a1a1a" stroke-width="0.85"/>
<circle cx="421.00" cy="101.72" r="1.65" stroke="#EC3A3E" fill="none" stroke-width="0.95"/>
<circle cx="423.75" cy="101.70" r="1.65" stroke="#EC3A3E" fill="none" stroke-width="0.95"/>
<circle cx="418.25" cy="101.60" r="1.65" stroke="#EC3A3E" fill="none" stroke-width="0.95"/>
<circle cx="426.50" cy="101.55" r="1.65" stroke="#EC3A3E" fill="none" stroke-width="0.95"/>
<circle cx="416.05" cy="102.64" r="1.65" stroke="#EC3A3E" fill="none" stroke-width="0.95"/>
<circle cx="414.95" cy="101.33" r="1.65" stroke="#EC3A3E" fill="none" stroke-width="0.95"/>
<circle cx="427.05" cy="101.23" r="1.65" stroke="#EC3A3E" fill="none" stroke-width="0.95"/>
<circle cx="418.80" cy="102.79" r="1.65" stroke="#EC3A3E" fill="none" stroke-width="0.95"/>
<circle cx="425.40" cy="102.86" r="1.65" stroke="#EC3A3E" fill="none" stroke-width="0.95"/>
<circle cx="421.55" cy="100.98" r="1.65" stroke="#EC3A3E" fill="none" stroke-width="0.95"/>
<circle cx="424.30" cy="100.92" r="1.65" stroke="#EC3A3E" fill="none" stroke-width="0.95"/>
<circle cx="422.10" cy="103.27" r="1.65" stroke="#EC3A3E" fill="none" stroke-width="0.95"/>
<circle cx="417.15" cy="100.68" r="1.65" stroke="#EC3A3E" fill="none" stroke-width="0.95"/>
<circle cx="419.35" cy="100.47" r="1.65" stroke="#EC3A3E" fill="none" stroke-width="0.95"/>
<circle cx="414.95" cy="100.41" r="1.65" stroke="#EC3A3E" fill="none" stroke-width="0.95"/>
<circle cx="427.05" cy="103.60" r="1.65" stroke="#EC3A3E" fill="none" stroke-width="0.95"/>
<circle cx="422.10" cy="99.81" r="1.65" stroke="#EC3A3E" fill="none" stroke-width="0.95"/>
<circle cx="425.40" cy="99.65" r="1.65" stroke="#EC3A3E" fill="none" stroke-width="0.95"/>
<circle cx="417.15" cy="99.51" r="1.65" stroke="#EC3A3E" fill="none" stroke-width="0.95"/>
<circle cx="417.15" cy="104.80" r="1.65" stroke="#EC3A3E" fill="none" stroke-width="0.95"/>
<circle cx="420.45" cy="105.07" r="1.65" stroke="#EC3A3E" fill="none" stroke-width="0.95"/>
<circle cx="427.05" cy="98.82" r="1.65" stroke="#EC3A3E" fill="none" stroke-width="0.95"/>
<circle cx="423.20" cy="105.59" r="1.65" stroke="#EC3A3E" fill="none" stroke-width="0.95"/>
<circle cx="425.95" cy="105.85" r="1.65" stroke="#EC3A3E" fill="none" stroke-width="0.95"/>
<circle cx="414.95" cy="106.29" r="1.65" stroke="#EC3A3E" fill="none" stroke-width="0.95"/>
<circle cx="421.00" cy="97.50" r="1.65" stroke="#EC3A3E" fill="none" stroke-width="0.95"/>
<circle cx="418.80" cy="106.54" r="1.65" stroke="#EC3A3E" fill="none" stroke-width="0.95"/>
<circle cx="421.55" cy="106.72" r="1.65" stroke="#EC3A3E" fill="none" stroke-width="0.95"/>
<circle cx="427.05" cy="106.90" r="1.65" stroke="#EC3A3E" fill="none" stroke-width="0.95"/>
<circle cx="416.60" cy="106.91" r="1.65" stroke="#EC3A3E" fill="none" stroke-width="0.95"/>
<circle cx="423.75" cy="96.84" r="1.65" stroke="#EC3A3E" fill="none" stroke-width="0.95"/>
<circle cx="418.80" cy="96.74" r="1.65" stroke="#EC3A3E" fill="none" stroke-width="0.95"/>
<circle cx="424.30" cy="107.38" r="1.65" stroke="#EC3A3E" fill="none" stroke-width="0.95"/>
<circle cx="419.35" cy="107.43" r="1.65" stroke="#EC3A3E" fill="none" stroke-width="0.95"/>
<circle cx="416.60" cy="95.49" r="1.65" stroke="#EC3A3E" fill="none" stroke-width="0.95"/>
<circle cx="414.95" cy="108.71" r="1.65" stroke="#EC3A3E" fill="none" stroke-width="0.95"/>
<circle cx="425.95" cy="95.29" r="1.65" stroke="#EC3A3E" fill="none" stroke-width="0.95"/>
<circle cx="422.10" cy="108.90" r="1.65" stroke="#EC3A3E" fill="none" stroke-width="0.95"/>
<circle cx="421.00" cy="94.74" r="1.65" stroke="#EC3A3E" fill="none" stroke-width="0.95"/>
<circle cx="423.75" cy="94.46" r="1.65" stroke="#EC3A3E" fill="none" stroke-width="0.95"/>
<circle cx="418.80" cy="94.34" r="1.65" stroke="#EC3A3E" fill="none" stroke-width="0.95"/>
<circle cx="419.90" cy="109.88" r="1.65" stroke="#EC3A3E" fill="none" stroke-width="0.95"/>
<circle cx="421.00" cy="66.20" r="1.65" stroke="#EC3A3E" fill="none" stroke-width="0.95"/>
<circle cx="421.00" cy="90.80" r="1.65" stroke="#EC3A3E" fill="none" stroke-width="0.95"/>
<circle cx="421.55" cy="111.70" r="1.65" stroke="#EC3A3E" fill="none" stroke-width="0.95"/>
<line x1="414.50" y1="101.50" x2="427.50" y2="101.50" stroke="#1a1a1a" stroke-width="0.85"/>
<line x1="421.00" y1="99.30" x2="421.00" y2="103.70" stroke="#1a1a1a" stroke-width="0.85"/>
<line x1="417.70" y1="99.30" x2="424.30" y2="99.30" stroke="#1a1a1a" stroke-width="0.85"/>
<line x1="417.70" y1="103.70" x2="424.30" y2="103.70" stroke="#1a1a1a" stroke-width="0.85"/>
<line x1="435.90" y1="47.80" x2="446.90" y2="47.80" stroke="#222" stroke-width="1.1"/>
<circle cx="435.90" cy="48.60" r="1.80" stroke="#1a1a1a" fill="white" stroke-width="0.85"/>
<circle cx="441.70" cy="47.00" r="1.80" stroke="#1a1a1a" fill="white" stroke-width="0.85"/>
<circle cx="446.90" cy="47.50" r="1.80" stroke="#1a1a1a" fill="white" stroke-width="0.85"/>
<line x1="456.60" y1="82.00" x2="466.70" y2="82.00" stroke="#222" stroke-width="1.1"/>
<line x1="461.60" y1="77.20" x2="461.60" y2="82.00" stroke="#222" stroke-width="0.8"/>
<circle cx="456.60" cy="82.60" r="1.80" stroke="#1a1a1a" fill="white" stroke-width="0.85"/>
<circle cx="461.60" cy="77.20" r="1.80" stroke="#1a1a1a" fill="white" stroke-width="0.85"/>
<circle cx="466.70" cy="82.10" r="1.80" stroke="#1a1a1a" fill="white" stroke-width="0.85"/>
<rect x="479.00" y="54.20" width="5.90" height="2.80" fill="#9a9a9a"/>
<circle cx="477.00" cy="56.40" r="1.95" stroke="none" fill="#111" stroke-width="1"/>
<circle cx="482.20" cy="55.00" r="1.95" stroke="none" fill="#111" stroke-width="1"/>
<circle cx="486.90" cy="55.40" r="1.95" stroke="none" fill="#111" stroke-width="1"/>
<rect x="499.40" y="113.20" width="6.20" height="2.80" fill="#9a9a9a"/>
<line x1="502.50" y1="114.60" x2="502.50" y2="122.10" stroke="#222" stroke-width="0.8"/>
<circle cx="497.40" cy="114.10" r="1.95" stroke="none" fill="#111" stroke-width="1"/>
<circle cx="502.50" cy="122.10" r="1.95" stroke="none" fill="#111" stroke-width="1"/>
<circle cx="507.60" cy="115.60" r="1.95" stroke="none" fill="#111" stroke-width="1"/>
<polyline points="484,47.8 484,41.7 508.4,41.7 508.4,105.5" fill="none" stroke="#2a2a2a" stroke-width="1.15"/>
<text x="496.50" y="40.90" font-size="5.8" text-anchor="middle" font-weight="normal" font-style="normal" fill="#222" stroke="#222" stroke-width="0.2" letter-spacing="0.6">***</text>
<text x="334.00" y="209.60" font-size="9.2" text-anchor="start" font-weight="normal" font-style="normal" fill="#222" stroke="#222" stroke-width="0.1" textLength="15.2" lengthAdjust="spacingAndGlyphs">(E)</text>
<text x="444.50" y="209.45" font-size="11" text-anchor="middle" font-weight="bold" font-style="italic" fill="#111" >CXCL10</text>
<rect x="471.80" y="228.85" width="44.60" height="100.35" fill="#C6C6C6"/>
<line x1="366.10" y1="228.85" x2="517.00" y2="228.85" stroke="#383838" stroke-width="1.15"/>
<line x1="366.10" y1="329.20" x2="517.00" y2="329.20" stroke="#383838" stroke-width="1.15"/>
<line x1="366.60" y1="228.35" x2="366.60" y2="329.70" stroke="#383838" stroke-width="1.15"/>
<line x1="516.50" y1="228.35" x2="516.50" y2="329.70" stroke="#383838" stroke-width="1.15"/>
<line x1="431.40" y1="228.85" x2="431.40" y2="329.20" stroke="#383838" stroke-width="1.15"/>
<text x="398.80" y="226.85" font-size="5.8" text-anchor="middle" font-weight="normal" font-style="normal" fill="#222" stroke="#222" stroke-width="0.04" >RNA-seq</text>
<text x="452.60" y="226.85" font-size="5.8" text-anchor="middle" font-weight="normal" font-style="normal" fill="#222" stroke="#222" stroke-width="0.04" >RNA-seq</text>
<text x="496.30" y="226.85" font-size="5.8" text-anchor="middle" font-weight="normal" font-style="normal" fill="#222" stroke="#222" stroke-width="0.04" >RT-qPCR</text>
<line x1="364.40" y1="329.20" x2="366.60" y2="329.20" stroke="#333" stroke-width="0.8"/>
<text x="364.0" y="331.10" font-size="5.1" text-anchor="end" fill="#222">1×10<tspan font-size="3.6" dy="-2.0">0</tspan></text>
<line x1="364.40" y1="309.13" x2="366.60" y2="309.13" stroke="#333" stroke-width="0.8"/>
<text x="364.0" y="311.03" font-size="5.1" text-anchor="end" fill="#222">1×10<tspan font-size="3.6" dy="-2.0">1</tspan></text>
<line x1="364.40" y1="289.06" x2="366.60" y2="289.06" stroke="#333" stroke-width="0.8"/>
<text x="364.0" y="290.96" font-size="5.1" text-anchor="end" fill="#222">1×10<tspan font-size="3.6" dy="-2.0">2</tspan></text>
<line x1="364.40" y1="268.99" x2="366.60" y2="268.99" stroke="#333" stroke-width="0.8"/>
<text x="364.0" y="270.89" font-size="5.1" text-anchor="end" fill="#222">1×10<tspan font-size="3.6" dy="-2.0">3</tspan></text>
<line x1="364.40" y1="248.92" x2="366.60" y2="248.92" stroke="#333" stroke-width="0.8"/>
<text x="364.0" y="250.82" font-size="5.1" text-anchor="end" fill="#222">1×10<tspan font-size="3.6" dy="-2.0">4</tspan></text>
<line x1="364.40" y1="228.85" x2="366.60" y2="228.85" stroke="#333" stroke-width="0.8"/>
<text x="364.0" y="230.75" font-size="5.1" text-anchor="end" fill="#222">1×10<tspan font-size="3.6" dy="-2.0">5</tspan></text>
<line x1="516.50" y1="329.20" x2="518.90" y2="329.20" stroke="#333" stroke-width="0.8"/>
<text x="519.8" y="331.10" font-size="5.1" fill="#222">1×10<tspan font-size="3.6" dy="-2.0">-1</tspan></text>
<line x1="516.50" y1="312.47" x2="518.90" y2="312.47" stroke="#333" stroke-width="0.8"/>
<text x="519.8" y="314.37" font-size="5.1" fill="#222">1×10<tspan font-size="3.6" dy="-2.0">0</tspan></text>
<line x1="516.50" y1="295.75" x2="518.90" y2="295.75" stroke="#333" stroke-width="0.8"/>
<text x="519.8" y="297.65" font-size="5.1" fill="#222">1×10<tspan font-size="3.6" dy="-2.0">1</tspan></text>
<line x1="516.50" y1="279.02" x2="518.90" y2="279.02" stroke="#333" stroke-width="0.8"/>
<text x="519.8" y="280.92" font-size="5.1" fill="#222">1×10<tspan font-size="3.6" dy="-2.0">2</tspan></text>
<line x1="516.50" y1="262.30" x2="518.90" y2="262.30" stroke="#333" stroke-width="0.8"/>
<text x="519.8" y="264.20" font-size="5.1" fill="#222">1×10<tspan font-size="3.6" dy="-2.0">3</tspan></text>
<line x1="516.50" y1="245.57" x2="518.90" y2="245.57" stroke="#333" stroke-width="0.8"/>
<text x="519.8" y="247.47" font-size="5.1" fill="#222">1×10<tspan font-size="3.6" dy="-2.0">4</tspan></text>
<line x1="516.50" y1="228.85" x2="518.90" y2="228.85" stroke="#333" stroke-width="0.8"/>
<text x="519.8" y="230.75" font-size="5.1" fill="#222">1×10<tspan font-size="3.6" dy="-2.0">5</tspan></text>
<text x="0.00" y="0.00" font-size="5.75" text-anchor="middle" font-weight="normal" font-style="normal" fill="#222" stroke="#222" stroke-width="0.12" transform="translate(341.8,278.3) rotate(-90) scale(1,1.15)">Normalized Counts</text>
<text x="0.00" y="0.00" font-size="5.9" text-anchor="middle" font-weight="normal" font-style="normal" fill="#222" stroke="#222" stroke-width="0.15" transform="translate(540.3,281.0) rotate(90) scale(1,1.15)">Relative RNA expression (fold change)</text>
<line x1="380.40" y1="329.20" x2="380.40" y2="331.50" stroke="#333" stroke-width="0.8"/>
<text x="0.00" y="0.00" font-size="5.6" text-anchor="end" font-weight="normal" font-style="normal" fill="#222" stroke="#222" stroke-width="0.04" transform="translate(381.7,335.5) rotate(-45)">Early Acute ZIKV</text>
<line x1="400.60" y1="329.20" x2="400.60" y2="331.50" stroke="#333" stroke-width="0.8"/>
<text x="0.00" y="0.00" font-size="5.6" text-anchor="end" font-weight="normal" font-style="normal" fill="#222" stroke="#222" stroke-width="0.04" transform="translate(401.9,335.5) rotate(-45)">Late Acute ZIKV</text>
<line x1="420.90" y1="329.20" x2="420.90" y2="331.50" stroke="#333" stroke-width="0.8"/>
<text x="0.00" y="0.00" font-size="5.6" text-anchor="end" font-weight="normal" font-style="normal" fill="#222" stroke="#222" stroke-width="0.04" transform="translate(422.2,335.5) rotate(-45)">Convalescent ZIKV</text>
<line x1="441.30" y1="329.20" x2="441.30" y2="331.50" stroke="#333" stroke-width="0.8"/>
<text x="0.00" y="0.00" font-size="5.6" text-anchor="end" font-weight="normal" font-style="normal" fill="#222" stroke="#222" stroke-width="0.04" transform="translate(442.6,335.5) rotate(-45)">ZIKV A549 Cells</text>
<line x1="461.60" y1="329.20" x2="461.60" y2="331.50" stroke="#333" stroke-width="0.8"/>
<text x="0.00" y="0.00" font-size="5.6" text-anchor="end" font-weight="normal" font-style="normal" fill="#222" stroke="#222" stroke-width="0.04" transform="translate(462.9,335.5) rotate(-45)">Mock A549 Cells</text>
<line x1="482.00" y1="329.20" x2="482.00" y2="331.50" stroke="#333" stroke-width="0.8"/>
<text x="0.00" y="0.00" font-size="5.6" text-anchor="end" font-weight="normal" font-style="normal" fill="#222" stroke="#222" stroke-width="0.04" transform="translate(483.3,335.5) rotate(-45)">ZIKV A549 Cells PCR</text>
<line x1="502.50" y1="329.20" x2="502.50" y2="331.50" stroke="#333" stroke-width="0.8"/>
<text x="0.00" y="0.00" font-size="5.6" text-anchor="end" font-weight="normal" font-style="normal" fill="#222" stroke="#222" stroke-width="0.04" transform="translate(503.8,335.5) rotate(-45)">Mock A549 Cells PCR</text>
<circle cx="380.30" cy="261.55" r="1.65" stroke="#B89A3A" fill="none" stroke-width="0.95"/>
<circle cx="382.50" cy="262.54" r="1.65" stroke="#B89A3A" fill="none" stroke-width="0.95"/>
<circle cx="378.10" cy="262.74" r="1.65" stroke="#B89A3A" fill="none" stroke-width="0.95"/>
<circle cx="384.15" cy="260.92" r="1.65" stroke="#B89A3A" fill="none" stroke-width="0.95"/>
<circle cx="385.25" cy="263.12" r="1.65" stroke="#B89A3A" fill="none" stroke-width="0.95"/>
<circle cx="375.90" cy="263.82" r="1.65" stroke="#B89A3A" fill="none" stroke-width="0.95"/>
<circle cx="380.30" cy="263.96" r="1.65" stroke="#B89A3A" fill="none" stroke-width="0.95"/>
<circle cx="374.25" cy="264.08" r="1.65" stroke="#B89A3A" fill="none" stroke-width="0.95"/>
<circle cx="383.05" cy="264.14" r="1.65" stroke="#B89A3A" fill="none" stroke-width="0.95"/>
<circle cx="386.35" cy="264.29" r="1.65" stroke="#B89A3A" fill="none" stroke-width="0.95"/>
<circle cx="378.10" cy="265.13" r="1.65" stroke="#B89A3A" fill="none" stroke-width="0.95"/>
<circle cx="384.70" cy="265.36" r="1.65" stroke="#B89A3A" fill="none" stroke-width="0.95"/>
<circle cx="381.40" cy="266.05" r="1.65" stroke="#B89A3A" fill="none" stroke-width="0.95"/>
<circle cx="380.30" cy="257.94" r="1.65" stroke="#B89A3A" fill="none" stroke-width="0.95"/>
<circle cx="383.05" cy="257.50" r="1.65" stroke="#B89A3A" fill="none" stroke-width="0.95"/>
<circle cx="375.90" cy="266.63" r="1.65" stroke="#B89A3A" fill="none" stroke-width="0.95"/>
<circle cx="378.65" cy="256.06" r="1.65" stroke="#B89A3A" fill="none" stroke-width="0.95"/>
<circle cx="380.30" cy="268.51" r="1.65" stroke="#B89A3A" fill="none" stroke-width="0.95"/>
<circle cx="383.05" cy="269.00" r="1.65" stroke="#B89A3A" fill="none" stroke-width="0.95"/>
<circle cx="381.40" cy="270.63" r="1.65" stroke="#B89A3A" fill="none" stroke-width="0.95"/>
<circle cx="378.65" cy="270.88" r="1.65" stroke="#B89A3A" fill="none" stroke-width="0.95"/>
<circle cx="380.30" cy="253.04" r="1.65" stroke="#B89A3A" fill="none" stroke-width="0.95"/>
<circle cx="383.60" cy="271.38" r="1.65" stroke="#B89A3A" fill="none" stroke-width="0.95"/>
<circle cx="376.45" cy="271.73" r="1.65" stroke="#B89A3A" fill="none" stroke-width="0.95"/>
<circle cx="382.50" cy="251.87" r="1.65" stroke="#B89A3A" fill="none" stroke-width="0.95"/>
<circle cx="385.80" cy="272.26" r="1.65" stroke="#B89A3A" fill="none" stroke-width="0.95"/>
<circle cx="378.65" cy="251.21" r="1.65" stroke="#B89A3A" fill="none" stroke-width="0.95"/>
<circle cx="384.70" cy="251.19" r="1.65" stroke="#B89A3A" fill="none" stroke-width="0.95"/>
<circle cx="380.30" cy="273.58" r="1.65" stroke="#B89A3A" fill="none" stroke-width="0.95"/>
<circle cx="383.05" cy="274.16" r="1.65" stroke="#B89A3A" fill="none" stroke-width="0.95"/>
<circle cx="380.85" cy="249.77" r="1.65" stroke="#B89A3A" fill="none" stroke-width="0.95"/>
<circle cx="378.10" cy="274.60" r="1.65" stroke="#B89A3A" fill="none" stroke-width="0.95"/>
<circle cx="377.55" cy="249.15" r="1.65" stroke="#B89A3A" fill="none" stroke-width="0.95"/>
<circle cx="385.25" cy="274.87" r="1.65" stroke="#B89A3A" fill="none" stroke-width="0.95"/>
<circle cx="382.50" cy="247.80" r="1.65" stroke="#B89A3A" fill="none" stroke-width="0.95"/>
<circle cx="380.30" cy="276.33" r="1.65" stroke="#B89A3A" fill="none" stroke-width="0.95"/>
<circle cx="383.05" cy="276.49" r="1.65" stroke="#B89A3A" fill="none" stroke-width="0.95"/>
<circle cx="378.10" cy="277.22" r="1.65" stroke="#B89A3A" fill="none" stroke-width="0.95"/>
<circle cx="380.30" cy="246.25" r="1.65" stroke="#B89A3A" fill="none" stroke-width="0.95"/>
<circle cx="377.55" cy="245.79" r="1.65" stroke="#B89A3A" fill="none" stroke-width="0.95"/>
<circle cx="380.30" cy="278.69" r="1.65" stroke="#B89A3A" fill="none" stroke-width="0.95"/>
<circle cx="382.50" cy="245.04" r="1.65" stroke="#B89A3A" fill="none" stroke-width="0.95"/>
<circle cx="385.25" cy="244.79" r="1.65" stroke="#B89A3A" fill="none" stroke-width="0.95"/>
<circle cx="381.95" cy="280.50" r="1.65" stroke="#B89A3A" fill="none" stroke-width="0.95"/>
<circle cx="380.30" cy="240.50" r="1.65" stroke="#B89A3A" fill="none" stroke-width="0.95"/>
<circle cx="380.30" cy="282.70" r="1.65" stroke="#B89A3A" fill="none" stroke-width="0.95"/>
<line x1="373.80" y1="261.00" x2="386.80" y2="261.00" stroke="#1a1a1a" stroke-width="0.85"/>
<line x1="380.30" y1="256.00" x2="380.30" y2="266.00" stroke="#1a1a1a" stroke-width="0.85"/>
<line x1="377.00" y1="256.00" x2="383.60" y2="256.00" stroke="#1a1a1a" stroke-width="0.85"/>
<line x1="377.00" y1="266.00" x2="383.60" y2="266.00" stroke="#1a1a1a" stroke-width="0.85"/>
<circle cx="400.30" cy="287.95" r="1.65" stroke="#5A8DD0" fill="none" stroke-width="0.95"/>
<circle cx="403.05" cy="287.73" r="1.65" stroke="#5A8DD0" fill="none" stroke-width="0.95"/>
<circle cx="397.55" cy="288.34" r="1.65" stroke="#5A8DD0" fill="none" stroke-width="0.95"/>
<circle cx="395.90" cy="286.63" r="1.65" stroke="#5A8DD0" fill="none" stroke-width="0.95"/>
<circle cx="404.70" cy="289.37" r="1.65" stroke="#5A8DD0" fill="none" stroke-width="0.95"/>
<circle cx="395.35" cy="289.72" r="1.65" stroke="#5A8DD0" fill="none" stroke-width="0.95"/>
<circle cx="398.65" cy="286.24" r="1.65" stroke="#5A8DD0" fill="none" stroke-width="0.95"/>
<circle cx="405.25" cy="286.24" r="1.65" stroke="#5A8DD0" fill="none" stroke-width="0.95"/>
<circle cx="401.40" cy="286.03" r="1.65" stroke="#5A8DD0" fill="none" stroke-width="0.95"/>
<circle cx="401.40" cy="290.00" r="1.65" stroke="#5A8DD0" fill="none" stroke-width="0.95"/>
<circle cx="399.20" cy="290.01" r="1.65" stroke="#5A8DD0" fill="none" stroke-width="0.95"/>
<circle cx="394.25" cy="285.78" r="1.65" stroke="#5A8DD0" fill="none" stroke-width="0.95"/>
<circle cx="406.35" cy="290.23" r="1.65" stroke="#5A8DD0" fill="none" stroke-width="0.95"/>
<circle cx="397.00" cy="290.63" r="1.65" stroke="#5A8DD0" fill="none" stroke-width="0.95"/>
<circle cx="403.60" cy="290.97" r="1.65" stroke="#5A8DD0" fill="none" stroke-width="0.95"/>
<circle cx="403.60" cy="284.98" r="1.65" stroke="#5A8DD0" fill="none" stroke-width="0.95"/>
<circle cx="397.00" cy="284.91" r="1.65" stroke="#5A8DD0" fill="none" stroke-width="0.95"/>
<circle cx="394.25" cy="291.20" r="1.65" stroke="#5A8DD0" fill="none" stroke-width="0.95"/>
<circle cx="399.20" cy="291.39" r="1.65" stroke="#5A8DD0" fill="none" stroke-width="0.95"/>
<circle cx="405.80" cy="291.44" r="1.65" stroke="#5A8DD0" fill="none" stroke-width="0.95"/>
<circle cx="399.75" cy="284.42" r="1.65" stroke="#5A8DD0" fill="none" stroke-width="0.95"/>
<circle cx="401.40" cy="291.65" r="1.65" stroke="#5A8DD0" fill="none" stroke-width="0.95"/>
<circle cx="396.45" cy="292.01" r="1.65" stroke="#5A8DD0" fill="none" stroke-width="0.95"/>
<circle cx="403.60" cy="292.26" r="1.65" stroke="#5A8DD0" fill="none" stroke-width="0.95"/>
<circle cx="405.80" cy="283.70" r="1.65" stroke="#5A8DD0" fill="none" stroke-width="0.95"/>
<circle cx="394.80" cy="283.66" r="1.65" stroke="#5A8DD0" fill="none" stroke-width="0.95"/>
<circle cx="401.95" cy="283.49" r="1.65" stroke="#5A8DD0" fill="none" stroke-width="0.95"/>
<circle cx="400.30" cy="295.29" r="1.65" stroke="#5A8DD0" fill="none" stroke-width="0.95"/>
<circle cx="403.05" cy="295.43" r="1.65" stroke="#5A8DD0" fill="none" stroke-width="0.95"/>
<circle cx="400.30" cy="280.52" r="1.65" stroke="#5A8DD0" fill="none" stroke-width="0.95"/>
<circle cx="403.05" cy="280.47" r="1.65" stroke="#5A8DD0" fill="none" stroke-width="0.95"/>
<circle cx="398.10" cy="296.50" r="1.65" stroke="#5A8DD0" fill="none" stroke-width="0.95"/>
<circle cx="398.65" cy="278.87" r="1.65" stroke="#5A8DD0" fill="none" stroke-width="0.95"/>
<circle cx="404.70" cy="278.75" r="1.65" stroke="#5A8DD0" fill="none" stroke-width="0.95"/>
<circle cx="400.85" cy="277.58" r="1.65" stroke="#5A8DD0" fill="none" stroke-width="0.95"/>
<circle cx="398.65" cy="276.53" r="1.65" stroke="#5A8DD0" fill="none" stroke-width="0.95"/>
<circle cx="400.30" cy="274.18" r="1.65" stroke="#5A8DD0" fill="none" stroke-width="0.95"/>
<circle cx="402.50" cy="272.59" r="1.65" stroke="#5A8DD0" fill="none" stroke-width="0.95"/>
<circle cx="400.30" cy="259.30" r="1.65" stroke="#5A8DD0" fill="none" stroke-width="0.95"/>
<circle cx="400.30" cy="262.50" r="1.65" stroke="#5A8DD0" fill="none" stroke-width="0.95"/>
<circle cx="400.30" cy="265.50" r="1.65" stroke="#5A8DD0" fill="none" stroke-width="0.95"/>
<circle cx="400.30" cy="268.20" r="1.65" stroke="#5A8DD0" fill="none" stroke-width="0.95"/>
<circle cx="400.30" cy="299.00" r="1.65" stroke="#5A8DD0" fill="none" stroke-width="0.95"/>
<line x1="393.80" y1="286.20" x2="406.80" y2="286.20" stroke="#1a1a1a" stroke-width="0.85"/>
<line x1="400.30" y1="281.20" x2="400.30" y2="291.20" stroke="#1a1a1a" stroke-width="0.85"/>
<line x1="397.00" y1="281.20" x2="403.60" y2="281.20" stroke="#1a1a1a" stroke-width="0.85"/>
<line x1="397.00" y1="291.20" x2="403.60" y2="291.20" stroke="#1a1a1a" stroke-width="0.85"/>
<circle cx="420.80" cy="291.96" r="1.65" stroke="#EC3A3E" fill="none" stroke-width="0.95"/>
<circle cx="423.55" cy="292.13" r="1.65" stroke="#EC3A3E" fill="none" stroke-width="0.95"/>
<circle cx="418.05" cy="292.38" r="1.65" stroke="#EC3A3E" fill="none" stroke-width="0.95"/>
<circle cx="415.85" cy="291.57" r="1.65" stroke="#EC3A3E" fill="none" stroke-width="0.95"/>
<circle cx="426.30" cy="292.56" r="1.65" stroke="#EC3A3E" fill="none" stroke-width="0.95"/>
<circle cx="414.75" cy="292.62" r="1.65" stroke="#EC3A3E" fill="none" stroke-width="0.95"/>
<circle cx="425.75" cy="291.26" r="1.65" stroke="#EC3A3E" fill="none" stroke-width="0.95"/>
<circle cx="418.60" cy="291.03" r="1.65" stroke="#EC3A3E" fill="none" stroke-width="0.95"/>
<circle cx="423.00" cy="290.96" r="1.65" stroke="#EC3A3E" fill="none" stroke-width="0.95"/>
<circle cx="420.80" cy="290.89" r="1.65" stroke="#EC3A3E" fill="none" stroke-width="0.95"/>
<circle cx="421.35" cy="293.23" r="1.65" stroke="#EC3A3E" fill="none" stroke-width="0.95"/>
<circle cx="424.65" cy="294.25" r="1.65" stroke="#EC3A3E" fill="none" stroke-width="0.95"/>
<circle cx="414.75" cy="289.62" r="1.65" stroke="#EC3A3E" fill="none" stroke-width="0.95"/>
<circle cx="419.70" cy="294.93" r="1.65" stroke="#EC3A3E" fill="none" stroke-width="0.95"/>
<circle cx="416.95" cy="294.97" r="1.65" stroke="#EC3A3E" fill="none" stroke-width="0.95"/>
<circle cx="421.90" cy="288.87" r="1.65" stroke="#EC3A3E" fill="none" stroke-width="0.95"/>
<circle cx="419.15" cy="288.73" r="1.65" stroke="#EC3A3E" fill="none" stroke-width="0.95"/>
<circle cx="422.45" cy="295.48" r="1.65" stroke="#EC3A3E" fill="none" stroke-width="0.95"/>
<circle cx="424.65" cy="288.45" r="1.65" stroke="#EC3A3E" fill="none" stroke-width="0.95"/>
<circle cx="416.95" cy="287.29" r="1.65" stroke="#EC3A3E" fill="none" stroke-width="0.95"/>
<circle cx="424.65" cy="296.90" r="1.65" stroke="#EC3A3E" fill="none" stroke-width="0.95"/>
<circle cx="426.85" cy="287.09" r="1.65" stroke="#EC3A3E" fill="none" stroke-width="0.95"/>
<circle cx="420.80" cy="297.31" r="1.65" stroke="#EC3A3E" fill="none" stroke-width="0.95"/>
<circle cx="418.05" cy="297.36" r="1.65" stroke="#EC3A3E" fill="none" stroke-width="0.95"/>
<circle cx="415.30" cy="297.36" r="1.65" stroke="#EC3A3E" fill="none" stroke-width="0.95"/>
<circle cx="420.80" cy="286.53" r="1.65" stroke="#EC3A3E" fill="none" stroke-width="0.95"/>
<circle cx="426.85" cy="297.64" r="1.65" stroke="#EC3A3E" fill="none" stroke-width="0.95"/>
<circle cx="423.00" cy="297.76" r="1.65" stroke="#EC3A3E" fill="none" stroke-width="0.95"/>
<circle cx="420.25" cy="298.26" r="1.65" stroke="#EC3A3E" fill="none" stroke-width="0.95"/>
<circle cx="417.50" cy="298.28" r="1.65" stroke="#EC3A3E" fill="none" stroke-width="0.95"/>
<circle cx="423.00" cy="285.67" r="1.65" stroke="#EC3A3E" fill="none" stroke-width="0.95"/>
<circle cx="414.75" cy="298.38" r="1.65" stroke="#EC3A3E" fill="none" stroke-width="0.95"/>
<circle cx="419.70" cy="284.32" r="1.65" stroke="#EC3A3E" fill="none" stroke-width="0.95"/>
<circle cx="416.95" cy="284.24" r="1.65" stroke="#EC3A3E" fill="none" stroke-width="0.95"/>
<circle cx="421.90" cy="283.12" r="1.65" stroke="#EC3A3E" fill="none" stroke-width="0.95"/>
<circle cx="424.65" cy="282.62" r="1.65" stroke="#EC3A3E" fill="none" stroke-width="0.95"/>
<circle cx="420.80" cy="263.50" r="1.65" stroke="#EC3A3E" fill="none" stroke-width="0.95"/>
<circle cx="420.80" cy="310.80" r="1.65" stroke="#EC3A3E" fill="none" stroke-width="0.95"/>
<line x1="414.30" y1="292.00" x2="427.30" y2="292.00" stroke="#1a1a1a" stroke-width="0.85"/>
<line x1="420.80" y1="289.60" x2="420.80" y2="294.40" stroke="#1a1a1a" stroke-width="0.85"/>
<line x1="417.50" y1="289.60" x2="424.10" y2="289.60" stroke="#1a1a1a" stroke-width="0.85"/>
<line x1="417.50" y1="294.40" x2="424.10" y2="294.40" stroke="#1a1a1a" stroke-width="0.85"/>
<line x1="435.60" y1="272.30" x2="446.60" y2="272.30" stroke="#222" stroke-width="1.1"/>
<circle cx="435.60" cy="272.30" r="1.80" stroke="#1a1a1a" fill="white" stroke-width="0.85"/>
<circle cx="440.30" cy="269.90" r="1.80" stroke="#1a1a1a" fill="white" stroke-width="0.85"/>
<circle cx="446.60" cy="272.30" r="1.80" stroke="#1a1a1a" fill="white" stroke-width="0.85"/>
<line x1="456.90" y1="317.20" x2="467.50" y2="317.20" stroke="#222" stroke-width="1.1"/>
<line x1="462.20" y1="303.40" x2="462.20" y2="317.20" stroke="#222" stroke-width="0.8"/>
<circle cx="456.90" cy="317.20" r="1.80" stroke="#1a1a1a" fill="white" stroke-width="0.85"/>
<circle cx="462.20" cy="303.40" r="1.80" stroke="#1a1a1a" fill="white" stroke-width="0.85"/>
<circle cx="467.50" cy="317.20" r="1.80" stroke="#1a1a1a" fill="white" stroke-width="0.85"/>
<rect x="479.50" y="234.00" width="6.20" height="2.80" fill="#9a9a9a"/>
<circle cx="477.50" cy="236.20" r="1.95" stroke="none" fill="#111" stroke-width="1"/>
<circle cx="482.40" cy="234.00" r="1.95" stroke="none" fill="#111" stroke-width="1"/>
<circle cx="487.70" cy="235.30" r="1.95" stroke="none" fill="#111" stroke-width="1"/>
<rect x="499.80" y="312.40" width="6.30" height="2.80" fill="#9a9a9a"/>
<line x1="502.90" y1="308.90" x2="502.90" y2="314.50" stroke="#222" stroke-width="0.8"/>
<circle cx="497.80" cy="315.90" r="1.95" stroke="none" fill="#111" stroke-width="1"/>
<circle cx="502.90" cy="308.90" r="1.95" stroke="none" fill="#111" stroke-width="1"/>
<circle cx="508.10" cy="313.00" r="1.95" stroke="none" fill="#111" stroke-width="1"/>
<polyline points="493.6,235.9 493.6,235.9 503.3,235.9 503.3,303.6" fill="none" stroke="#2a2a2a" stroke-width="1.15"/>
<text x="498.50" y="236.60" font-size="5.8" text-anchor="middle" font-weight="normal" font-style="normal" fill="#222" stroke="#222" stroke-width="0.2" letter-spacing="0.6">***</text>
</svg></body></html>
